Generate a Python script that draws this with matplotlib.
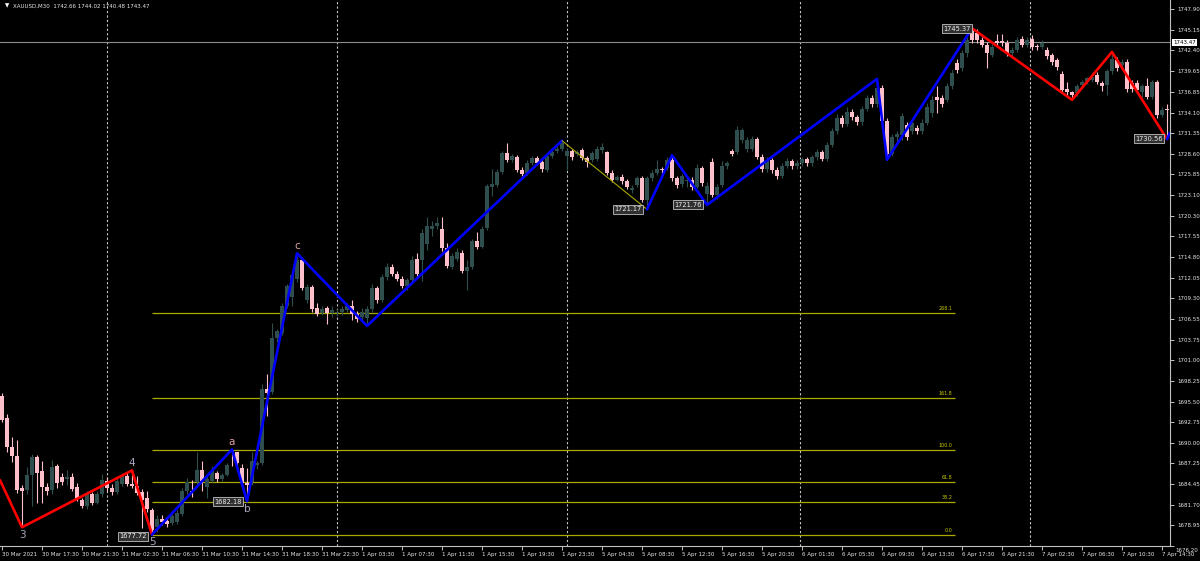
import matplotlib
matplotlib.use("Agg")
import matplotlib.pyplot as plt
import matplotlib.transforms as mtransforms
from matplotlib.font_manager import FontProperties, findfont
from matplotlib.textpath import TextPath
import numpy as np

# ---- XAUUSD M30 bars (bar index = position on the chart) ----
opens = [
    1696.2, 1693.3, 1689.4, 1688.2, 1683.9, 1683.7, 1685.7, 1688.1, 1686.2, 1684.1,
    1683.7, 1686.9, 1685.4, 1685.1, 1685.4, 1684.1, 1682.3, 1681.6, 1683.1, 1682.0,
    1683.1, 1684.9, 1684.0, 1683.4, 1684.5, 1685.6, 1684.5, 1684.2, 1683.4, 1682.6,
    1681.0, 1678.7, 1679.8, 1679.5, 1679.3, 1679.4, 1680.5, 1683.5, 1683.6, 1684.8,
    1686.4, 1684.1, 1684.9, 1686.0, 1685.1, 1685.7, 1689.0, 1688.7, 1686.6, 1684.6,
    1684.7, 1687.0, 1687.3, 1697.2, 1696.8, 1704.0, 1704.6, 1708.2, 1709.4, 1711.9,
    1714.4, 1709.0, 1710.8, 1708.0, 1707.3, 1708.0, 1707.3, 1707.3, 1707.4, 1707.7,
    1708.2, 1707.2, 1706.8, 1706.6, 1707.9, 1710.6, 1709.1, 1712.1, 1713.5, 1712.6,
    1711.9, 1710.9, 1711.7, 1714.6, 1714.4, 1716.5, 1718.5, 1719.0, 1718.6, 1716.0,
    1713.5, 1714.6, 1715.4, 1713.0, 1713.5, 1716.9, 1716.2, 1718.7, 1724.2, 1724.4,
    1726.2, 1728.7, 1727.8, 1728.2, 1726.4, 1726.0, 1727.4, 1728.0, 1727.5, 1726.4,
    1728.3, 1729.0, 1729.3, 1728.3, 1729.0, 1728.6, 1729.1, 1728.0, 1727.8, 1727.9,
    1729.1, 1728.8, 1726.0, 1725.1, 1725.5, 1724.9, 1723.7, 1724.4, 1725.4, 1722.4,
    1725.3, 1726.0, 1726.5, 1726.7, 1727.7, 1725.3, 1724.6, 1725.0, 1725.1, 1724.2,
    1726.7, 1723.2, 1727.5, 1723.1, 1724.4, 1727.0, 1729.0, 1728.9, 1730.4, 1729.3,
    1729.3, 1730.6, 1728.2, 1726.5, 1727.8, 1726.4, 1725.6, 1727.0, 1727.6, 1726.9,
    1727.3, 1727.9, 1727.3, 1728.1, 1728.8, 1727.9, 1729.8, 1731.6, 1733.4, 1732.6,
    1734.2, 1733.5, 1732.8, 1734.6, 1736.0, 1735.2, 1737.4, 1733.0, 1728.6, 1730.9,
    1731.1, 1732.4, 1731.6, 1732.1, 1731.6, 1732.7, 1734.0, 1736.2, 1736.1, 1735.8,
    1737.6, 1740.7, 1740.0, 1742.0, 1745.2, 1744.7, 1743.8, 1743.1, 1741.8, 1743.7,
    1743.6, 1743.4, 1742.0, 1742.5, 1743.9, 1743.1, 1743.9, 1743.0, 1742.9, 1742.5,
    1741.8, 1741.1, 1739.3, 1737.2, 1736.8, 1736.7, 1737.8, 1738.2, 1738.5, 1739.1,
    1738.0, 1737.8, 1739.6, 1741.1, 1740.5, 1740.9, 1738.0, 1738.0, 1736.9, 1737.6,
    1736.2, 1738.2, 1733.8, 1734.6,
]
highs = [
    1696.6, 1693.8, 1690.8, 1690.3, 1684.3, 1686.8, 1688.5, 1688.3, 1687.6, 1684.6,
    1687.7, 1687.2, 1686.0, 1686.4, 1686.0, 1684.6, 1682.6, 1683.5, 1683.4, 1683.5,
    1685.8, 1685.4, 1684.5, 1685.3, 1686.0, 1686.0, 1686.3, 1685.6, 1683.8, 1683.5,
    1681.3, 1680.3, 1680.3, 1679.9, 1680.5, 1681.0, 1683.9, 1685.3, 1685.0, 1688.7,
    1687.6, 1685.6, 1686.9, 1686.2, 1685.9, 1687.3, 1689.1, 1688.8, 1687.2, 1686.6,
    1688.8, 1687.6, 1697.9, 1699.2, 1706.0, 1705.2, 1708.6, 1711.2, 1712.8, 1715.3,
    1714.7, 1711.2, 1711.1, 1708.7, 1708.2, 1708.2, 1708.2, 1707.8, 1708.3, 1708.7,
    1709.0, 1707.6, 1708.0, 1708.2, 1711.2, 1711.0, 1712.6, 1714.0, 1713.9, 1713.0,
    1712.3, 1712.0, 1715.0, 1715.3, 1718.6, 1720.2, 1719.6, 1720.1, 1720.2, 1716.7,
    1715.3, 1716.0, 1715.8, 1714.4, 1717.2, 1718.2, 1718.9, 1724.6, 1726.5, 1726.6,
    1729.0, 1730.0, 1728.6, 1728.5, 1726.8, 1727.7, 1728.3, 1728.3, 1727.8, 1728.6,
    1729.2, 1729.6, 1730.35, 1729.4, 1729.3, 1729.1, 1729.4, 1728.3, 1729.0, 1729.6,
    1730.0, 1729.0, 1726.4, 1725.8, 1725.9, 1725.2, 1724.4, 1725.6, 1725.6, 1725.6,
    1726.4, 1727.8, 1726.8, 1728.2, 1728.4, 1725.6, 1725.9, 1725.5, 1725.5, 1727.2,
    1727.0, 1724.8, 1728.0, 1724.6, 1727.6, 1727.6, 1729.3, 1732.3, 1732.0, 1730.8,
    1731.0, 1730.9, 1728.6, 1728.2, 1728.0, 1726.8, 1727.4, 1728.0, 1727.9, 1727.7,
    1728.2, 1728.2, 1728.4, 1729.2, 1729.1, 1730.2, 1732.0, 1733.9, 1733.8, 1734.8,
    1734.6, 1733.8, 1735.0, 1736.5, 1736.4, 1738.6, 1737.8, 1733.4, 1731.3, 1731.6,
    1734.0, 1732.8, 1733.1, 1732.5, 1733.2, 1735.4, 1736.3, 1737.6, 1736.5, 1738.0,
    1739.8, 1741.2, 1742.4, 1744.2, 1745.37, 1745.2, 1744.2, 1743.5, 1743.3, 1744.6,
    1744.6, 1743.8, 1742.8, 1744.2, 1744.3, 1744.2, 1744.4, 1743.3, 1743.8, 1742.9,
    1742.1, 1741.4, 1739.6, 1738.2, 1737.0, 1737.9, 1738.5, 1738.9, 1739.2, 1739.5,
    1738.3, 1739.9, 1742.2, 1741.5, 1741.2, 1741.2, 1738.4, 1738.4, 1737.9, 1738.7,
    1738.5, 1738.5, 1734.9, 1735.3,
]
lows = [
    1692.8, 1688.8, 1687.4, 1683.3, 1678.7, 1683.1, 1681.5, 1682.0, 1682.0, 1683.0,
    1683.1, 1684.0, 1684.3, 1684.4, 1683.5, 1682.2, 1681.3, 1681.2, 1681.7, 1681.8,
    1682.8, 1683.6, 1683.0, 1683.1, 1684.2, 1684.2, 1684.0, 1683.0, 1678.6, 1680.8,
    1677.72, 1678.1, 1679.0, 1678.8, 1679.0, 1679.1, 1680.2, 1683.2, 1682.8, 1684.1,
    1683.6, 1682.6, 1684.7, 1684.8, 1684.9, 1685.5, 1686.9, 1686.8, 1684.2, 1682.18,
    1684.4, 1686.5, 1687.0, 1693.6, 1696.5, 1703.4, 1704.4, 1708.0, 1708.3, 1711.5,
    1710.4, 1708.6, 1707.5, 1706.9, 1707.0, 1705.9, 1706.8, 1706.9, 1707.1, 1707.4,
    1706.4, 1706.1, 1706.3, 1705.6, 1707.5, 1708.7, 1708.8, 1711.8, 1712.3, 1711.6,
    1710.6, 1710.4, 1711.4, 1712.2, 1711.6, 1715.8, 1717.6, 1718.6, 1715.6, 1713.3,
    1713.2, 1714.3, 1712.7, 1710.4, 1713.2, 1715.9, 1716.0, 1718.4, 1723.0, 1724.1,
    1725.9, 1727.5, 1727.5, 1726.1, 1725.6, 1725.7, 1727.1, 1727.1, 1726.2, 1726.1,
    1728.0, 1728.7, 1729.0, 1726.4, 1727.8, 1728.3, 1727.7, 1726.8, 1727.5, 1727.6,
    1728.7, 1725.8, 1724.8, 1724.9, 1724.6, 1723.9, 1723.3, 1724.1, 1722.1, 1721.17,
    1725.0, 1725.8, 1726.0, 1726.4, 1725.0, 1724.0, 1724.2, 1724.2, 1723.8, 1724.0,
    1724.3, 1721.76, 1722.8, 1722.6, 1724.1, 1726.6, 1728.3, 1728.6, 1730.0, 1728.9,
    1729.0, 1727.9, 1726.1, 1726.2, 1726.0, 1725.2, 1725.3, 1726.7, 1726.5, 1726.6,
    1727.0, 1727.0, 1727.0, 1727.8, 1727.6, 1727.6, 1729.5, 1731.3, 1732.2, 1732.3,
    1733.1, 1732.4, 1732.5, 1734.3, 1734.8, 1734.9, 1732.6, 1727.8, 1728.3, 1730.2,
    1730.5, 1730.4, 1731.2, 1731.2, 1731.3, 1732.4, 1733.5, 1734.0, 1734.8, 1735.5,
    1737.3, 1739.4, 1739.7, 1741.5, 1743.4, 1743.4, 1742.8, 1740.0, 1741.5, 1743.1,
    1743.0, 1741.6, 1741.7, 1742.2, 1742.8, 1742.8, 1742.5, 1742.4, 1742.6, 1741.2,
    1740.5, 1739.8, 1736.8, 1736.2, 1735.8, 1736.3, 1737.5, 1737.9, 1738.2, 1737.9,
    1737.0, 1736.4, 1739.3, 1739.6, 1740.2, 1736.9, 1736.9, 1736.7, 1736.0, 1735.9,
    1735.9, 1733.4, 1733.5, 1730.56,
]
closes = [
    1693.0, 1689.4, 1688.2, 1683.7, 1683.5, 1685.7, 1688.1, 1686.0, 1684.1, 1683.6,
    1686.8, 1684.6, 1684.7, 1685.4, 1683.8, 1682.5, 1681.6, 1683.1, 1682.0, 1683.1,
    1685.0, 1684.0, 1683.4, 1684.9, 1685.6, 1684.5, 1684.2, 1683.3, 1682.3, 1681.1,
    1678.3, 1679.8, 1679.4, 1679.1, 1680.2, 1680.6, 1683.6, 1684.8, 1683.4, 1686.4,
    1684.9, 1685.2, 1686.2, 1685.1, 1685.7, 1687.0, 1688.7, 1687.3, 1684.6, 1684.4,
    1687.5, 1687.3, 1697.2, 1696.6, 1704.0, 1704.9, 1708.2, 1710.9, 1712.4, 1714.4,
    1710.7, 1710.8, 1707.8, 1707.2, 1707.9, 1707.3, 1707.7, 1707.5, 1707.9, 1708.3,
    1707.2, 1706.5, 1707.5, 1707.8, 1710.7, 1709.1, 1712.1, 1713.5, 1712.6, 1711.9,
    1711.0, 1711.7, 1714.4, 1712.6, 1718.0, 1719.0, 1719.0, 1719.3, 1716.0, 1713.6,
    1714.9, 1715.5, 1713.0, 1713.5, 1716.9, 1716.2, 1718.6, 1724.3, 1724.5, 1726.2,
    1728.7, 1727.8, 1728.3, 1726.4, 1725.9, 1727.4, 1728.0, 1727.4, 1726.5, 1728.3,
    1728.9, 1729.3, 1730.0, 1729.0, 1728.1, 1728.8, 1728.0, 1727.5, 1728.7, 1729.3,
    1729.5, 1726.0, 1725.1, 1725.5, 1724.9, 1724.2, 1724.0, 1725.3, 1722.4, 1725.3,
    1726.0, 1726.5, 1726.4, 1727.8, 1725.3, 1724.4, 1725.6, 1725.1, 1724.2, 1726.7,
    1724.7, 1724.3, 1723.1, 1724.2, 1727.0, 1727.3, 1728.6, 1731.8, 1731.8, 1730.4,
    1730.6, 1728.2, 1726.5, 1727.8, 1726.4, 1725.6, 1727.0, 1727.6, 1726.9, 1727.4,
    1727.9, 1727.3, 1728.1, 1728.8, 1727.9, 1729.8, 1731.6, 1733.4, 1732.6, 1734.2,
    1733.5, 1732.8, 1734.6, 1736.0, 1735.2, 1737.4, 1733.0, 1728.6, 1730.9, 1731.2,
    1733.6, 1730.9, 1732.7, 1731.6, 1732.7, 1734.9, 1735.8, 1735.8, 1735.2, 1737.6,
    1739.4, 1739.8, 1742.0, 1743.8, 1743.8, 1743.8, 1743.1, 1742.0, 1742.9, 1743.4,
    1743.4, 1742.0, 1742.5, 1743.8, 1743.1, 1743.8, 1742.9, 1742.8, 1743.4, 1741.6,
    1740.9, 1740.2, 1737.1, 1736.8, 1736.5, 1737.6, 1738.2, 1738.7, 1738.9, 1738.2,
    1737.6, 1739.6, 1741.2, 1740.0, 1740.9, 1737.3, 1737.3, 1737.1, 1737.6, 1736.2,
    1738.2, 1733.8, 1734.5, 1734.4,
]

time_labels = [
    "30 Mar 2021", "30 Mar 17:30", "30 Mar 21:30", "31 Mar 02:30", "31 Mar 06:30",
    "31 Mar 10:30", "31 Mar 14:30", "31 Mar 18:30", "31 Mar 22:30", "1 Apr 03:30",
    "1 Apr 07:30", "1 Apr 11:30", "1 Apr 15:30", "1 Apr 19:30", "1 Apr 23:30",
    "5 Apr 04:30", "5 Apr 08:30", "5 Apr 12:30", "5 Apr 16:30", "5 Apr 20:30",
    "6 Apr 01:30", "6 Apr 05:30", "6 Apr 09:30", "6 Apr 13:30", "6 Apr 17:30",
    "6 Apr 21:30", "7 Apr 02:30", "7 Apr 06:30", "7 Apr 10:30", "7 Apr 14:30",
]
price_ticks = [
    1747.90, 1745.15, 1742.40, 1739.65, 1736.85, 1734.10, 1731.35, 1728.60, 1725.85,
    1723.10, 1720.30, 1717.55, 1714.80, 1712.05, 1709.30, 1706.55, 1703.75, 1701.00,
    1698.25, 1695.50, 1692.75, 1690.00, 1687.25, 1684.45, 1681.70, 1678.95, 1676.20,
]
day_starts = [21, 67, 113, 159.5, 205.5]
current_price = 1743.47

# zigzag swings (bar, price)
red_1 = [(-0.4, 1685.0), (4, 1678.7), (26, 1686.3), (30, 1677.72)]
blue_1 = [(30, 1677.72), (46, 1689.1), (49, 1682.18), (59, 1715.3), (73, 1705.6), (112, 1730.35)]
olive_1 = [(112, 1730.35), (129, 1721.17)]
blue_2 = [(129, 1721.17), (134, 1728.4), (141, 1721.76), (175, 1738.6), (177, 1727.8), (194, 1745.37)]
red_2 = [(194, 1745.37), (214, 1735.8), (222, 1742.2), (233, 1730.56)]
blue_3 = [(233, 1730.56), (233.6, 1731.4)]

wave_labels = [("3", 4, 1678.7, "below"), ("4", 26, 1686.3, "above"), ("5", 30, 1677.72, "below"),
               ("a", 46, 1689.1, "above"), ("b", 49, 1682.18, "below"), ("c", 59, 1715.3, "above")]

fib_names = ["0.0", "38.2", "61.8", "100.0", "161.8", "268.1"]
fib_prices = [1677.72, 1682.04, 1684.72, 1689.03, 1696.02, 1707.37]
fib_span = (30, 190.6)

# price boxes: (text, right-edge bar, price)
price_boxes = [("1677.72", 28.9, 1677.5), ("1682.18", 47.9, 1682.1), ("1721.17", 128.0, 1721.2),
               ("1721.76", 140.0, 1721.76), ("1745.37", 193.8, 1745.3), ("1730.56", 232.2, 1730.6)]

title = "XAUUSD,M30  1742.66 1744.02 1740.48 1743.47"


# ---- fonts: narrow face if there is one, sized to the terminal's pixel widths ----
def pick_font():
    try:
        return FontProperties(fname=findfont(FontProperties(family="Liberation Sans Narrow"),
                                             fallback_to_default=False))
    except Exception:
        pass
    path = findfont(FontProperties(family="DejaVu Sans", stretch="condensed"))
    if "Condensed" in path:
        return FontProperties(fname=path)
    return FontProperties(family="Liberation Sans")


def fit_size(fp, s, target_px):
    w = TextPath((0, 0), s, size=10, prop=fp).get_extents().width * 100 / 72
    return 10 * target_px / w


FP = pick_font()
AX_FS = fit_size(FP, "30 Mar 17:30", 36)
BOX_FS = fit_size(FP, "1677.72", 26)
FIB_FS = fit_size(FP, "268.1", 13)


def fprop(size):
    p = FP.copy()
    p.set_size(size)
    return p


# ---- drawing ----
BG = "black"
FG = "#e6e6e6"
BULL = "#2f4f4f"
BEAR = "#ffc0cb"
FIB = "#a8a800"

o = np.array(opens); h = np.array(highs); l = np.array(lows); c = np.array(closes)
x = np.arange(len(o))
cols = [BULL if cc >= oo else BEAR for oo, cc in zip(o, c)]

fig = plt.figure(figsize=(12, 5.61), dpi=100, facecolor=BG)
ax = fig.add_axes([0, 15 / 561, 1170 / 1200, 546 / 561], facecolor=BG)

ax.set_xlim(-0.4, 233.6)
ax.set_ylim(1676.20, 1749.14)

for d in day_starts:
    ax.axvline(d, color="#c8c8c8", lw=0.8, ls=(0, (2, 2)), zorder=1)
ax.axhline(current_price, color="#8c8c8c", lw=0.8, zorder=1)

# fib levels
for name, p in zip(fib_names, fib_prices):
    ax.hlines(p, fib_span[0], fib_span[1], color=FIB, lw=0.9, zorder=2)
    ax.text(fib_span[1] - 0.6, p + 0.25, name, color="#c8c800", fontproperties=fprop(FIB_FS),
            ha="right", va="bottom", zorder=2)

# candles
ax.vlines(x, l, h, colors=cols, lw=0.8, zorder=3)
body = np.maximum(np.abs(c - o), 0.13)
ax.bar(x, body, bottom=np.minimum(o, c), width=0.62, color=cols, linewidth=0, zorder=4)


def draw(seg, color, lw):
    xs, ys = zip(*seg)
    ax.plot(xs, ys, color=color, lw=lw, zorder=5, solid_capstyle="round")


draw(red_1, "#ff0000", 1.9)
draw(blue_1, "#0000ff", 1.9)
draw(olive_1, FIB, 0.8)
draw(blue_2, "#0000ff", 1.9)
draw(red_2, "#ff0000", 1.9)
draw(blue_3, "#0000ff", 1.9)

wave_cols = {"3": "#a8a8c0", "4": "#a8a8c0", "5": "#a8a8c0", "a": "#e0a0a0", "b": "#a8a8c0", "c": "#e0a0a0"}
for t, bx, p, pos in wave_labels:
    off = -0.35 if pos == "below" else 0.35
    ax.text(bx, p + off, t, color=wave_cols[t], fontsize=7.5,
            ha="center", va="top" if pos == "below" else "bottom", zorder=6)

for t, bx, p in price_boxes:
    ax.text(bx, p, t, color="#eeeeee", fontproperties=fprop(BOX_FS), ha="right", va="center",
            zorder=7, bbox=dict(boxstyle="square,pad=0.2", fc="#303030", ec="#c0c0c0", lw=0.6))

# axes styling
for s in ("left", "top"):
    ax.spines[s].set_visible(False)
for s in ("right", "bottom"):
    ax.spines[s].set_color("#c0c0c0")
    ax.spines[s].set_linewidth(0.8)

ax.yaxis.tick_right()
ax.set_yticks(price_ticks)
ax.set_yticklabels([f"{p:.2f}" for p in price_ticks[:-1]] + [""], fontproperties=fprop(AX_FS))
ax.tick_params(axis="y", colors="#c0c0c0", labelcolor=FG, length=3, width=0.7, pad=2,
               direction="out")
ax.text(1.0, 1676.20, f"{price_ticks[-1]:.2f}", color=FG, fontproperties=fprop(AX_FS),
        ha="left", va="center", clip_on=False,
        transform=mtransforms.offset_copy(ax.get_yaxis_transform(), fig=fig, x=5, y=-5, units="dots"))

ax.set_xticks(np.arange(0, 233, 8))
ax.set_xticklabels(time_labels, fontproperties=fprop(AX_FS))
ax.tick_params(axis="x", colors="#c0c0c0", labelcolor=FG, length=3, width=0.7, pad=1.5,
               direction="out")
for lbl in ax.get_xticklabels():
    lbl.set_ha("left")

# current price tag on the price scale
ax.text(1.0, current_price, f"{current_price:.2f}", color="black", fontproperties=fprop(AX_FS),
        ha="left", va="center", transform=mtransforms.offset_copy(ax.get_yaxis_transform(),
                                                                    fig=fig, x=3, y=0, units="dots"),
        clip_on=False, zorder=8, bbox=dict(boxstyle="square,pad=0.2", fc="white", ec="white", lw=0))

fig.text(5 / 1200, 1 - 6 / 561, "\u25bc", color="white", fontsize=4, ha="left", va="center",
         family="DejaVu Sans")
fig.text(13 / 1200, 1 - 6 / 561, title, color=FG, fontproperties=fprop(AX_FS), ha="left", va="center")

fig.savefig("out.png", dpi=100, facecolor=BG)
